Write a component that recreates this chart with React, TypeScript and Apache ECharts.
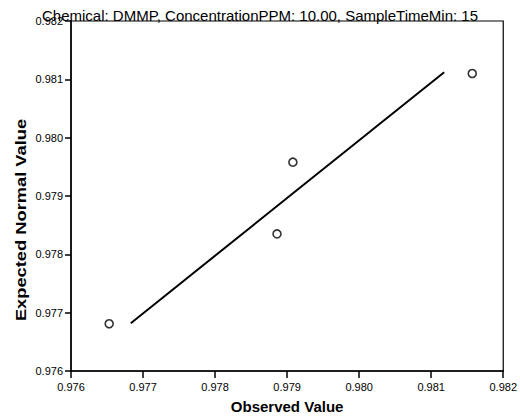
import React, { useEffect, useRef } from "react";
import * as echarts from "echarts";

const titleText = "Chemical: DMMP, ConcentrationPPM: 10.00, SampleTimeMin: 15";
const xAxisTitle = "Observed Value";
const yAxisTitle = "Expected Normal Value";

const observed = [0.97653, 0.97886, 0.97908, 0.98157];
const expected = [0.97681, 0.97835, 0.97958, 0.9811];

const lineX = [0.97683, 0.98118];
const lineY = [0.97682, 0.98112];

const axisMin = 0.976;
const axisMax = 0.982;
const axisStep = 0.001;

const FONT = "'Liberation Sans', Arial, Helvetica, sans-serif";

export default function App() {
  const ref = useRef<HTMLDivElement>(null);
  useEffect(() => {
    document.body.style.margin = "0";
    if (!ref.current) return;
    const chart = echarts.init(ref.current, undefined, { renderer: "svg" });
    chart.setOption({
      animation: false,
      backgroundColor: "#ffffff",
      title: {
        text: titleText,
        left: "center",
        top: 3,
        textStyle: { fontFamily: FONT, fontSize: 15, fontWeight: "normal", color: "#000" },
      },
      grid: {
        left: 71,
        right: 15,
        top: 21,
        bottom: 43,
        show: true,
        borderColor: "#000",
        borderWidth: 1.2,
        backgroundColor: "transparent",
      },
      graphic: [
        {
          type: "text",
          x: 21,
          y: 220,
          rotation: Math.PI / 2,
          scaleX: 1.22,
          style: {
            text: yAxisTitle,
            font: `bold 15px ${FONT}`,
            fill: "#000",
            align: "center",
            verticalAlign: "middle",
          },
        },
      ],
      xAxis: {
        type: "value",
        min: axisMin,
        max: axisMax,
        interval: axisStep,
        name: xAxisTitle,
        nameLocation: "middle",
        nameGap: 28,
        nameTextStyle: { fontFamily: FONT, fontSize: 15, fontWeight: "bold", color: "#000" },
        axisLine: { show: true, lineStyle: { color: "#000", width: 1.5 } },
        axisTick: { show: true, length: 7, lineStyle: { color: "#000", width: 1.5 } },
        axisLabel: {
          margin: 10,
          fontFamily: FONT,
          fontSize: 11,
          color: "#000",
          formatter: (v: number) => v.toFixed(3),
        },
        splitLine: { show: false },
      },
      yAxis: {
        type: "value",
        min: axisMin,
        max: axisMax,
        interval: axisStep,
        axisLine: { show: true, lineStyle: { color: "#000", width: 1.5 } },
        axisTick: { show: true, length: 6, lineStyle: { color: "#000", width: 1.5 } },
        axisLabel: {
          margin: 8,
          fontFamily: FONT,
          fontSize: 11,
          color: "#000",
          formatter: (v: number) => v.toFixed(3),
        },
        splitLine: { show: false },
      },
      series: [
        {
          type: "line",
          data: lineX.map((x, i) => [x, lineY[i]]),
          showSymbol: false,
          symbol: "none",
          lineStyle: { color: "#000", width: 2 },
          z: 2,
        },
        {
          type: "scatter",
          data: observed.map((x, i) => [x, expected[i]]),
          symbol: "circle",
          symbolSize: 8,
          itemStyle: { color: "#fff", borderColor: "#000", borderWidth: 1.6 },
          z: 3,
        },
      ],
    });
    return () => chart.dispose();
  }, []);
  return <div ref={ref} style={{ width: 520, height: 419 }} />;
}
